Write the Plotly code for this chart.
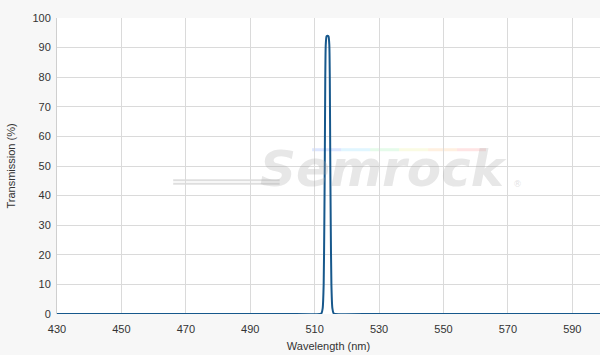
import plotly.graph_objects as go

# Transmission spectrum
wavelength_nm = [430, 500, 511.6, 512.1, 512.5, 512.8, 513.0, 513.15, 513.3, 513.45,
                 513.7, 514.0, 514.3, 514.55, 514.7, 514.85, 515.0, 515.2, 515.5,
                 515.9, 516.4, 530, 600]
transmission_pct = [0, 0, 0, 0.2, 2, 10, 30, 52, 80, 91,
                    93.8, 94, 93.8, 91, 80, 52, 30, 10, 2,
                    0.2, 0, 0, 0]

x_ticks = [430, 450, 470, 490, 510, 530, 550, 570, 590]
y_ticks = [0, 10, 20, 30, 40, 50, 60, 70, 80, 90, 100]

fig = go.Figure()
fig.add_trace(go.Scatter(
    x=wavelength_nm, y=transmission_pct, mode="lines",
    line=dict(color="#17588c", width=2, shape="spline", smoothing=0.6),
    hoverinfo="skip", showlegend=False,
))

# Watermark
fig.add_annotation(
    text="Semrock", xref="paper", yref="paper", x=0.602, y=0.49,
    showarrow=False,
    font=dict(family="DejaVu Sans", size=50, color="rgba(170,170,170,0.28)",
              weight="bold", style="italic"),
)
fig.add_annotation(
    text="®", xref="paper", yref="paper", x=0.86, y=0.44,
    showarrow=False,
    font=dict(family="DejaVu Sans", size=9, color="rgba(170,170,170,0.35)"),
)
rainbow = ["#9db8ff", "#a8e6ff", "#b6f5c4", "#f3f5b0", "#ffd6a8", "#ffb3b3"]
x0, x1 = 0.47, 0.79
step = (x1 - x0) / len(rainbow)
for i, c in enumerate(rainbow):
    fig.add_shape(type="line", xref="paper", yref="paper",
                  x0=x0 + i * step, x1=x0 + (i + 1) * step, y0=0.555, y1=0.555,
                  line=dict(color=c, width=3), opacity=0.35, layer="below")
for yy in (0.452, 0.440):
    fig.add_shape(type="line", xref="paper", yref="paper",
                  x0=0.214, x1=0.41, y0=yy, y1=yy,
                  line=dict(color="rgba(200,200,200,0.6)", width=2), layer="below")

fig.update_layout(
    width=600, height=355,
    margin=dict(l=57, r=0, t=18, b=41),
    paper_bgcolor="#f7f7f7",
    plot_bgcolor="#ffffff",
    font=dict(family="Liberation Sans, Arial, sans-serif", size=11, color="#333333"),
    xaxis=dict(
        range=[430, 598.6], tickvals=x_ticks, ticktext=[str(v) for v in x_ticks],
        showgrid=True, gridcolor="#dadada", gridwidth=1,
        zeroline=False, showline=False, ticks="", ticklabelstandoff=7,
        title=dict(text="Wavelength (nm)", font=dict(size=11, color="#333333"), standoff=8),
        tickfont=dict(size=11, color="#333333"),
    ),
    yaxis=dict(
        range=[0, 100], tickvals=y_ticks,
        showgrid=True, gridcolor="#dadada", gridwidth=1,
        zeroline=False, showline=True, linecolor="#cfcfcf", linewidth=1,
        ticks="", ticklabelstandoff=3,
        title=dict(text="Transmission (%)", font=dict(size=11, color="#333333"), standoff=14),
        tickfont=dict(size=11, color="#333333"),
    ),
)

fig.write_html("out.html")
